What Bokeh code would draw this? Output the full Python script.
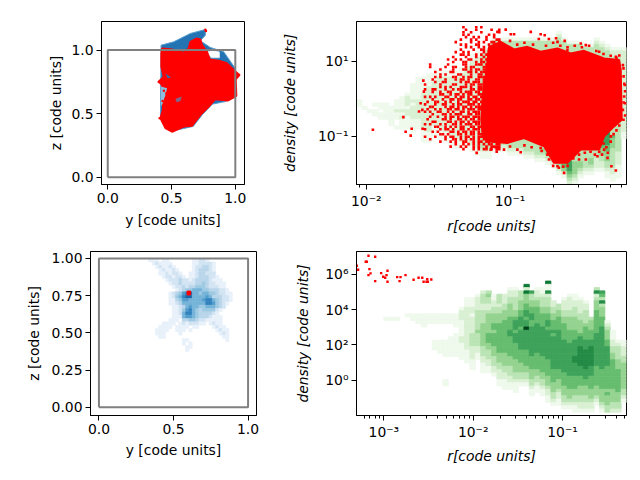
from bokeh.embed import file_html
from bokeh.resources import INLINE
from bokeh.layouts import column, row
from bokeh.models import Range1d, FixedTicker, ColumnDataSource
from bokeh.plotting import figure

GREENS = ["#ffffff","#eff9ec","#d9f0d3","#bbe4b5","#95d391","#66bd6f","#3ea25a","#238b45","#0b7734","#00441b"]
BLUES = ["#ffffff","#e8f1fa","#d2e4f3","#b8d5ea","#9cc9e2","#74b3d8","#509ccc","#3282be","#1764ab","#084a91"]

# ---- top left: y / z projection outlines (code units)
tl_blue_y = [.418,.517,.648,.765,.765,.726,.804,.909,1.0,1.005,.92,.82,.74,.67,.491,.413]
tl_blue_z = [1.039,1.065,1.131,1.162,1.117,1.073,1.021,.987,.856,.634,.595,.575,.49,.40,.36,.465]
tl_hole_y = [.775,.82,.875,.875,.81]
tl_hole_z = [.985,1.0,.985,.94,.94]
tl_red_y = [.426,.504,.595,.634,.648,.695,.726,.739,.778,.799,.869,.935,.987,1.031,1.003,1.008,.94,.843,.791,.726,.661,.595,.504,.452,.413,.433,.433,.426,.399,.439,.42,.42]
tl_red_z = [1.013,1.005,.979,1.013,1.065,1.091,1.084,1.039,.987,.927,.916,.896,.843,.804,.77,.64,.603,.614,.556,.491,.405,.399,.358,.386,.465,.53,.608,.726,.752,.791,.869,.974]
tl_pale_y = [.418,.465,.45,.43,.418]
tl_pale_z = [.713,.70,.64,.58,.556]
tl_notch_y = [.452,.496,.47]
tl_notch_z = [.817,.785,.778]
tl_notch2_y = [.53,.58,.57,.54]
tl_notch2_z = [.615,.635,.60,.59]
tl_speck_y = [.765,.77,1.03,.40,.407,.44,.455,.43,.46]
tl_speck_z = [1.16,1.15,.805,.75,.465,.68,.62,.60,.66]

# ---- top right: density against radius, log10 values
tr_x_lim = (-2.068, -0.19)
tr_y_lim = (-2.30, 2.07)
tr_start = [24,26,27,25,25,25,26,24,23,22,19,17,17,16,16,15,15,15,15,14,12,10,9,8,7,5,5,5,5,5,5,5,5,5,5,5,5,3,5,6,6,6,7,7,5,6,7,8,8,8]
tr_levels = [
 "11","1","1","1011","11011","11111","111111","111211001","1111212111","12221221111",
 "111112122221111","1111111222222111","11111222222222221111","111122222222222222111",
 "11"+"2"*14+"111","11"+"2"*16+"111","11"+"2"*17+"111","11"+"2"*18+"111","11"+"2"*19+"111",
 "11"+"2"*20+"211","11"+"2"*22+"211","11"+"2"*25+"211","11"+"2"*27+"211","11"+"3"*28+"3211","11"+"3"*29+"3211",
 "1"+"3"*30+"3321","1"+"3"*30+"3321","1"+"3"*30+"3321","1"+"3"*30+"33321","1"+"3"*30+"33321",
 "1"+"3"*30+"33321","1"+"3"*31+"33321","1"+"3"*31+"33321","1"+"3"*32+"33321",
 "1"+"3"*33+"4321","1"+"3"*34+"4321","1"+"3"*35+"4321","12"+"3"*37+"44321","1"+"3"*36+"455421",
 "1"+"3"*34+"456665432","1"+"3"*36+"4444321","1"+"3"*36+"44321","1"+"3"*35+"3321","1"+"3"*34+"44321",
 "12"+"3"*26+"5555543332221","12"+"3"*24+"67766654433221","12"+"3"*22+"56776665544433211",
 "122"+"3"*24+"54443333332211","1223"+"3"*25+"33322221111","1"+"2"*24+"211"]
tr_core_r = [-1.146,-1.065,-.972,-.879,-.787,-.67,-.578,-.485,-.346,-.241,-.23,-.223,-.276,-.346,-.38,-.508,-.601,-.694,-.763,-.903,-1.019,-1.158,-1.19,-1.2,-1.19,-1.17]
tr_core_d = [1.391,1.524,1.32,1.391,1.258,1.347,1.213,1.284,1.08,1.036,.769,-.564,-.742,-1.009,-1.364,-1.364,-1.72,-1.72,-1.276,-1.053,-1.187,-1.142,-1.0,-.56,.06,.59]
tr_log_r = [-1.954,-1.742,-1.726,-1.691,-1.684,-1.608,
 -1.603,-1.599,-1.633,-1.622,-1.61,
 -1.232,-1.135,-1.042,-.949,-.926,-.787,-.729,-.67,-.624,-.52,-.473,-.392,-.322,-.295,-.264,-.346,-.299,
 -1.088,-1.03,-.995,-.972,-.856,-.787,-.759,-.67,-.601,-.508,-.473,-.38,-.322,-.264,-.211,-.202,-.206,-.211,-.2,
 -1.0,-.95,-.9,-.84,-.8,-.75,-.7,-.65,-.6,-.55,-.5,-.45,-.4,-.35,-.3,-.26,-.24,-.68,-.62,-.73,
 -1.1,-1.0,-.9,-.85,-.78,-.74,-.7,-.66,-.63,-.6,-.56,-.52,-.48,-.44,-.41,-.38,-.35,-.33,-.3,-.28,-.26,-.24,-.32,-.36,
 -.21,-.205,-.2,-.215,-.2,-.21,-.215]
tr_log_d = [-.831,-.493,-.884,-.991,-.804,-.804,
 .484,.191,-.342,-.12,-.298,
 -1.453,-1.364,-1.364,-1.364,-1.436,-1.32,-1.631,-1.809,-1.987,-1.631,-1.631,-1.542,-1.587,-1.809,-1.924,-1.364,-1.009,
 1.791,1.853,1.729,1.729,1.791,1.729,1.702,1.524,1.302,1.48,1.436,1.258,1.036,1.124,.813,.369,.058,-.564,-.12,
 1.55,1.45,1.5,1.45,1.6,1.42,1.5,1.42,1.38,1.42,1.38,1.42,1.28,1.2,1.15,1.1,1.16,1.62,1.55,1.6,
 -1.3,-1.28,-1.25,-1.3,-1.4,-1.5,-1.8,-1.85,-1.82,-1.8,-1.6,-1.5,-1.45,-1.42,-1.5,-1.42,-1.2,-1.3,-1.15,-.95,-.85,-.72,-1.45,-1.5,
 .6,.4,.2,-.3,-.45,-.1,.9]
# speckled left flank of the red cloud, read as a mask: radius runs left to right, density top to bottom
tr_mask_r0 = -1.60
tr_mask_dr = 0.0178
tr_mask_d0 = 1.95
tr_mask_dd = 0.0667
tr_mask = [
 "...............#....#.#.......",
 "................#...#.....#..#",
 "...............#..#...#......#",
 "...............#.#.......#.#..",
 "................#..#.#..#..#..",
 "..............#...#.#...#...##",
 "............#.....#..#.#..##.#",
 "..............#.#...##...#.###",
 "................#.#..#.#..##.#",
 "..............#....#..##.#.###",
 "............#..#.#.....#.##.##",
 "..............##.#..#.#.#..###",
 "...........#....#...#..#.#.###",
 ".........#..#.#..##...#.##.###",
 "...........#...##...#.##..####",
 "..#......#.....##...###.#.####",
 "..#.....#..##...#.##...##.####",
 "......#....#...##.#.##.##.####",
 "....#.....##.....##.#.####.###",
 "......#.#....##...#..##.######",
 "....#.#....##..#.##..###.#####",
 "...#....#...#.##.#..##.##.####",
 "....#..##.....#.##.###.##.####",
 "#.....#....##...#.##.####.####",
 "......#.#.#...###.#..###.#####",
 "#..##...#..#.##...##.###.#####",
 "...#..#..##...#.###.##.###.###",
 "......##..#.##.#.##..###.#####",
 "#.#.#...##..#.##.#.##.###.####",
 "...#...#..##.##..##.##.#######",
 ".#..##..#.#..#.###.##.###.####",
 "#...#..##..#.##..###.#.#######",
 "..##....#.##.#.##.#.###.######",
 ".#..#.#..##.##.#.###.###.#####",
 "#.#..##..#.#..##.#.###.#######",
 "...#...##.#.###..##.##.#######",
 "..#..#..#.##.#.###.###.#######",
 ".#.....##.#..##.#.##.#.#######",
 "...##....##.#.##.#.###.#######",
 "#.#...#.#..##.#.###.##.#######",
 "....##..#.#.#.##..##.###.#####",
 "#.....#.##.#..##.#.###.#######",
 "...#.#....##.#.##.##.#.#######",
 "......##.#...##.#.##.##.######",
 "#...#...#.##..#.##.#.###.#####",
 "..#.....#..##.#.#.##.#.#######",
 "......#...#.#..##..#.##.##.###",
 "............#..#.#.#.#.#.##.##",
 "..........#...#.#..#.#..#.####",
 "...............#...#.#.##.#.##",
 "............................#."]

# ---- bottom left: projected density
bl_x_edges = (.244, .917)
bl_y_edges = (1.022, .35)
bl_rows = [
 "000000000000000000000000000000",
 "000011101100000001122100000000",
 "000001211110000001122221000000",
 "000000121121000001223321000000",
 "000000012112100001233321000000",
 "000000011212210011233222000000",
 "000000001221221011233322100000",
 "000000000122232212333321110000",
 "000000000012232222334322111000",
 "000000000001223233444322211000",
 "000000000000123445554433322100",
 "000000000012346785545544322110",
 "000000000012457885555653332210",
 "000000000011346655556775432210",
 "000000000011235555555776432100",
 "000000000001123565544555432000",
 "000000000001124675434444210000",
 "000000000001125775433332100000",
 "000000000001115665433321110000",
 "000000000011103344322111110000",
 "000000001111012122211012110000",
 "000000011110111101100001211000",
 "000000111100111010000000121100",
 "000000111000010000000000012100",
 "000000011000000000000000001100",
 "000000000000001100000000000100",
 "000000000000001010000000000000",
 "000000000000000110000000000000",
 "000000000000000100000000000000"]
bl_red_y = [.596,.603,.61,.596,.603,.61]
bl_red_z = [.76,.76,.76,.775,.775,.775]

# ---- bottom right: density against radius, log10 values
br_x_lim = (-3.306, -0.284)
br_y_lim = (-2.0, 7.3)
br_start = [0,0,0,0,0,20,20,20,0,19,19,19,19,19,19,19,19,19,19,17,14,14,13,12,12,13,13,13,11,11,12,10,12,11,11,9,15,16,14,13,13,14,15,20,11,12,21,24,27,27]
br_levels = ["","","","","","1","1","1","","1","11","111","1111","111","11100000111","111000001111",
 "1110000011111000000011","11100001111110","1111001111111","1222111112211111","11122222222222221111",
 "1112212222233332222111","12222333333433332211","2333223333444444433322111","3433223444444555443332211",
 "1122334445545555444333221","3332334445555555554443322211","22233444555555555544443322111",
 "1223344445555665555554443332211","12233334456665666555554444332111","33344455666566666655554443321",
 "828"+"4445566566"+"9"+"66666655555443321","6"+"3344556655666666666555544433211",
 "12234455555666666666555554433211","1123334455556666666665555544332110","81172"+"33344556656666666665555544432211",
 "22334455565666666666655554443321","3344555566666666666655544432211","1222334455555666666666655554443321",
 "12222334444555566666666665555444321","112233344445556666677666655554433211","12222334444566677777766655544433221",
 "1223333455556667777776665544433221","344455566777777666555544432210","372344455555556666666666555555444321",
 "6537344455566666666666665555554444321","1234445566666655555554544433","1112233445555555554444332",
 "1233334445555555444332","1122233444444443321"]
br_log_r = [-3.303,-3.288,-3.202,-3.191,-3.172,-3.097,-3.161,-3.149,-3.172,-3.097,-3.03,-3.007,-2.985,-2.97,-2.959,-2.959,-2.851,-2.813,-2.824,-2.757,-2.667,-2.611,-2.57,-2.555,-2.514,-2.507,-2.469,-2.522]
br_log_d = [6.492,6.265,6.72,6.72,7.06,7.003,6.303,6.057,5.962,5.62,6.076,5.868,5.811,5.962,6.208,5.583,5.849,5.849,5.62,5.962,5.697,5.811,5.811,5.583,5.735,5.583,5.716,5.583]

FONT = "DejaVu Sans"

def style(p, xlabel, ylabel, italic=False, xs=4, ys=4):
    p.xaxis.axis_label = xlabel
    p.yaxis.axis_label = ylabel
    p.outline_line_color = "black"
    p.outline_line_width = 1
    p.xgrid.visible = False
    p.ygrid.visible = False
    for ax, st in ((p.xaxis[0], xs), (p.yaxis[0], ys)):
        ax.axis_line_color = "black"
        ax.major_tick_line_color = "black"
        ax.minor_tick_line_color = "black"
        ax.major_tick_out = 5
        ax.major_tick_in = 0
        ax.minor_tick_out = 3
        ax.minor_tick_in = 0
        ax.major_label_text_color = "black"
        ax.major_label_text_font = FONT
        ax.major_label_text_font_size = "13.9px"
        ax.axis_label_text_color = "black"
        ax.axis_label_text_font = FONT
        ax.axis_label_text_font_size = "13.9px"
        ax.axis_label_text_font_style = "italic" if italic else "normal"
        ax.major_label_standoff = 3
        ax.axis_label_standoff = st

def make(width, height, l, r, t, b, xr, yr, log=False):
    kw = dict(x_axis_type="log", y_axis_type="log") if log else {}
    return figure(width=width, height=height, min_border_left=l, min_border_right=r,
                  min_border_top=t, min_border_bottom=b, x_range=xr, y_range=yr,
                  output_backend="svg", toolbar_location=None, tools="", **kw)

def log_grid(p, x_lim, y_lim, starts, levels, nbins=50):
    dx = (x_lim[1]-x_lim[0])/nbins
    dy = (y_lim[1]-y_lim[0])/nbins
    L, R, T, B, C = [], [], [], [], []
    for c, (s, lv) in enumerate(zip(starts, levels)):
        for k, ch in enumerate(lv):
            if ch == "0":
                continue
            rw = s+k
            L.append(10**(x_lim[0]+c*dx)); R.append(10**(x_lim[0]+(c+1)*dx))
            T.append(10**(y_lim[1]-rw*dy)); B.append(10**(y_lim[1]-(rw+1)*dy))
            C.append(GREENS[int(ch)])
    src = ColumnDataSource(dict(l=L, r=R, t=T, b=B, c=C))
    p.quad(left="l", right="r", top="t", bottom="b", fill_color="c", line_color="c", line_width=0.8, source=src)

def box(p):
    p.line([0,1,1,0,0],[0,0,1,1,0], line_color="#808080", line_width=2)

def ticks(p_axis, majors, labels=None, minors=()):
    p_axis.ticker = FixedTicker(ticks=list(majors), minor_ticks=list(minors))
    if labels:
        p_axis.major_label_overrides = dict(zip(majors, labels))

# top left
p1 = make(270, 236, 101, 26, 21, 51, Range1d(-0.049, 1.072), Range1d(-0.057, 1.225))
style(p1, "y [code units]", "z [code units]", xs=6, ys=4)
p1.patch(tl_blue_y, tl_blue_z, fill_color="#2474b4", line_color="#5a9fd0", line_width=1)
p1.patch(tl_hole_y, tl_hole_z, fill_color="#ffffff", line_color="#cfe2f2", line_width=1)
p1.patch(tl_red_y, tl_red_z, fill_color="#ff0000", line_color="#ff0000", line_width=2)
p1.patch(tl_pale_y, tl_pale_z, fill_color="#8fc0e0", line_color=None)
p1.patch(tl_notch_y, tl_notch_z, fill_color="#2474b4", line_color=None)
p1.patch(tl_notch2_y, tl_notch2_z, fill_color="#4a94c8", line_color=None, fill_alpha=0.7)
p1.scatter(tl_speck_y, tl_speck_z, marker="circle", size=2.5, color="#ff0000", line_color=None)
box(p1)
ticks(p1.xaxis[0], [0, 0.5, 1], ["0.0","0.5","1.0"])
ticks(p1.yaxis[0], [0, 0.5, 1], ["0.0","0.5","1.0"])

# top right
p2 = make(368, 236, 86, 12, 21, 51,
          Range1d(10**tr_x_lim[0], 10**tr_x_lim[1]), Range1d(10**tr_y_lim[0], 10**tr_y_lim[1]), log=True)
style(p2, "r[code units]", "density [code units]", italic=True, xs=6, ys=17)
log_grid(p2, tr_x_lim, tr_y_lim, tr_start, tr_levels)
p2.patch([10**v for v in tr_core_r], [10**v for v in tr_core_d], fill_color="#ff0000", line_color="#ff0000", line_width=2)
mask_r, mask_d = [], []
for i, line in enumerate(tr_mask):
    for j, ch in enumerate(line):
        if ch == "#":
            mask_r.append(tr_mask_r0 + (j+.5)*tr_mask_dr)
            mask_d.append(tr_mask_d0 - (i+.5)*tr_mask_dd)
all_r = list(tr_log_r) + mask_r
all_d = list(tr_log_d) + mask_d
p2.scatter([10**v for v in all_r], [10**v for v in all_d], marker="square", size=2.6, color="#ff0000", line_color=None)
ticks(p2.xaxis[0], [0.01, 0.1], ["10\u207b\u00b2","10\u207b\u00b9"],
      [.009,.02,.03,.04,.05,.06,.07,.08,.09,.2,.3,.4,.5,.6])
ticks(p2.yaxis[0], [0.1, 10], ["10\u207b\u00b9","10\u00b9"])

# bottom left
p3 = make(270, 240, 90, 14, 15, 61, Range1d(-0.0565, 1.0565), Range1d(-0.056, 1.047))
style(p3, "y [code units]", "z [code units]", xs=5, ys=7)
nr, nc = len(bl_rows), len(bl_rows[0])
dx3 = (bl_x_edges[1]-bl_x_edges[0])/nc
dy3 = (bl_y_edges[1]-bl_y_edges[0])/30
Lx, Rx, Tx, Bx, Cx = [], [], [], [], []
for i, rw in enumerate(bl_rows):
    for j, ch in enumerate(rw):
        if ch == "0":
            continue
        Lx.append(bl_x_edges[0]+j*dx3); Rx.append(bl_x_edges[0]+(j+1)*dx3)
        Tx.append(bl_y_edges[0]+i*dy3); Bx.append(bl_y_edges[0]+(i+1)*dy3)
        Cx.append(BLUES[int(ch)])
p3.quad(left="l", right="r", top="t", bottom="b", fill_color="c", line_color="c", line_width=0.5,
        source=ColumnDataSource(dict(l=Lx, r=Rx, t=Tx, b=Bx, c=Cx)))
p3.scatter(bl_red_y, bl_red_z, marker="square", size=2.4, color="#ff0000", line_color=None)
box(p3)
ticks(p3.xaxis[0], [0, 0.5, 1], ["0.0","0.5","1.0"])
ticks(p3.yaxis[0], [0, 0.25, 0.5, 0.75, 1], ["0.00","0.25","0.50","0.75","1.00"])

# bottom right
p4 = make(368, 240, 86, 12, 15, 61,
          Range1d(10**br_x_lim[0], 10**br_x_lim[1]), Range1d(10**br_y_lim[0], 10**br_y_lim[1]), log=True)
style(p4, "r[code units]", "density [code units]", italic=True, xs=5, ys=11)
log_grid(p4, br_x_lim, br_y_lim, br_start, br_levels)
p4.scatter([10**v for v in br_log_r], [10**v for v in br_log_d], marker="square", size=2.4, color="#ff0000", line_color=None)
ticks(p4.xaxis[0], [0.001, 0.01, 0.1], ["10\u207b\u00b3","10\u207b\u00b2","10\u207b\u00b9"],
      [.0006,.0007,.0008,.0009,.002,.003,.004,.005,.006,.007,.008,.009,.02,.03,.04,.05,.06,.07,.08,.09,.2,.3,.4,.5])
ticks(p4.yaxis[0], [1, 100, 10000, 1000000], ["10\u2070","10\u00b2","10\u2074","10\u2076"])

page = column(row(p1, p2, spacing=0), row(p3, p4, spacing=0), spacing=0)
open("out.html", "w").write(file_html(page, INLINE))
